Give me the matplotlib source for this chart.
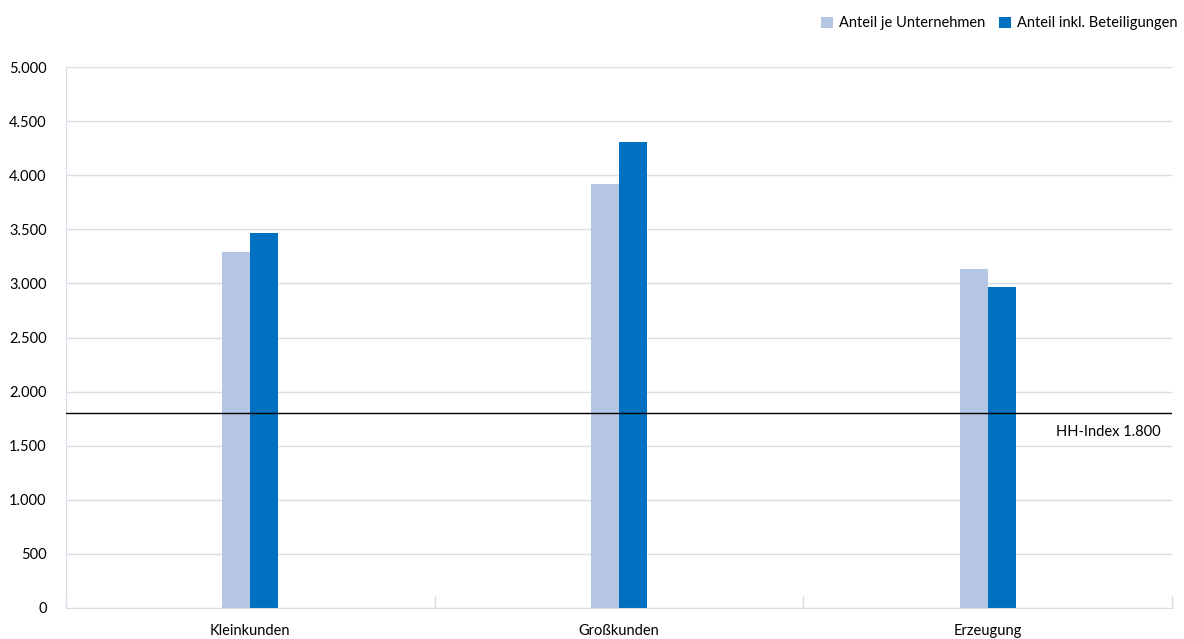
import matplotlib.pyplot as plt
import numpy as np

plt.rcParams['font.family'] = ['Lato', 'DejaVu Sans']

categories = ['Kleinkunden', 'Großkunden', 'Erzeugung']
anteil_unternehmen = [3290, 3920, 3133]
anteil_beteiligungen = [3466, 4308, 2967]
hh_index = 1800

light = '#b4c6e4'
dark = '#0070c0'
grid = '#dadde8'

fig = plt.figure(figsize=(11.84, 6.39), dpi=100)
ax = fig.add_axes([66 / 1184, 31.3 / 639, 1106 / 1184, 540.4 / 639])

x = np.arange(len(categories))
w = 0.076
ax.bar(x - w / 2, anteil_unternehmen, w, color=light, label='Anteil je Unternehmen', zorder=2)
ax.bar(x + w / 2, anteil_beteiligungen, w, color=dark, label='Anteil inkl. Beteiligungen', zorder=2)

ax.axhline(hh_index, color='black', lw=1, zorder=3)
ax.text(2.47, hh_index - 110, 'HH-Index 1.800', ha='right', va='top', fontsize=10.5)

ax.set_xlim(-0.5, 2.5)
ax.set_ylim(0, 5000)
ax.set_yticks(np.arange(0, 5001, 500))
ax.set_yticklabels([f'{v:,}'.replace(',', '.') for v in range(0, 5001, 500)], fontsize=10.5)
ax.yaxis.grid(True, color=grid, lw=1, zorder=0)
ax.tick_params(axis='y', length=0, pad=14)

# category labels centred, boundary ticks between groups
ax.set_xticks(x)
ax.set_xticklabels(categories, fontsize=10.5)
ax.tick_params(axis='x', which='major', length=0, pad=12)
ax.set_xticks([-0.5, 0.5, 1.5, 2.5], minor=True)
ax.tick_params(axis='x', which='minor', direction='in', length=9, color=grid, width=1)

for s in ['top', 'right']:
    ax.spines[s].set_visible(False)
for s in ['left', 'bottom']:
    ax.spines[s].set_color(grid)

ax.legend(loc='upper right', bbox_to_anchor=(1.003, 1 - 6 / 639), bbox_transform=fig.transFigure,
          ncol=2, frameon=False, fontsize=10.5, handlelength=0.8, handleheight=0.8,
          columnspacing=1.0, handletextpad=0.4, borderaxespad=0.3)

fig.savefig('out.png', dpi=100)
